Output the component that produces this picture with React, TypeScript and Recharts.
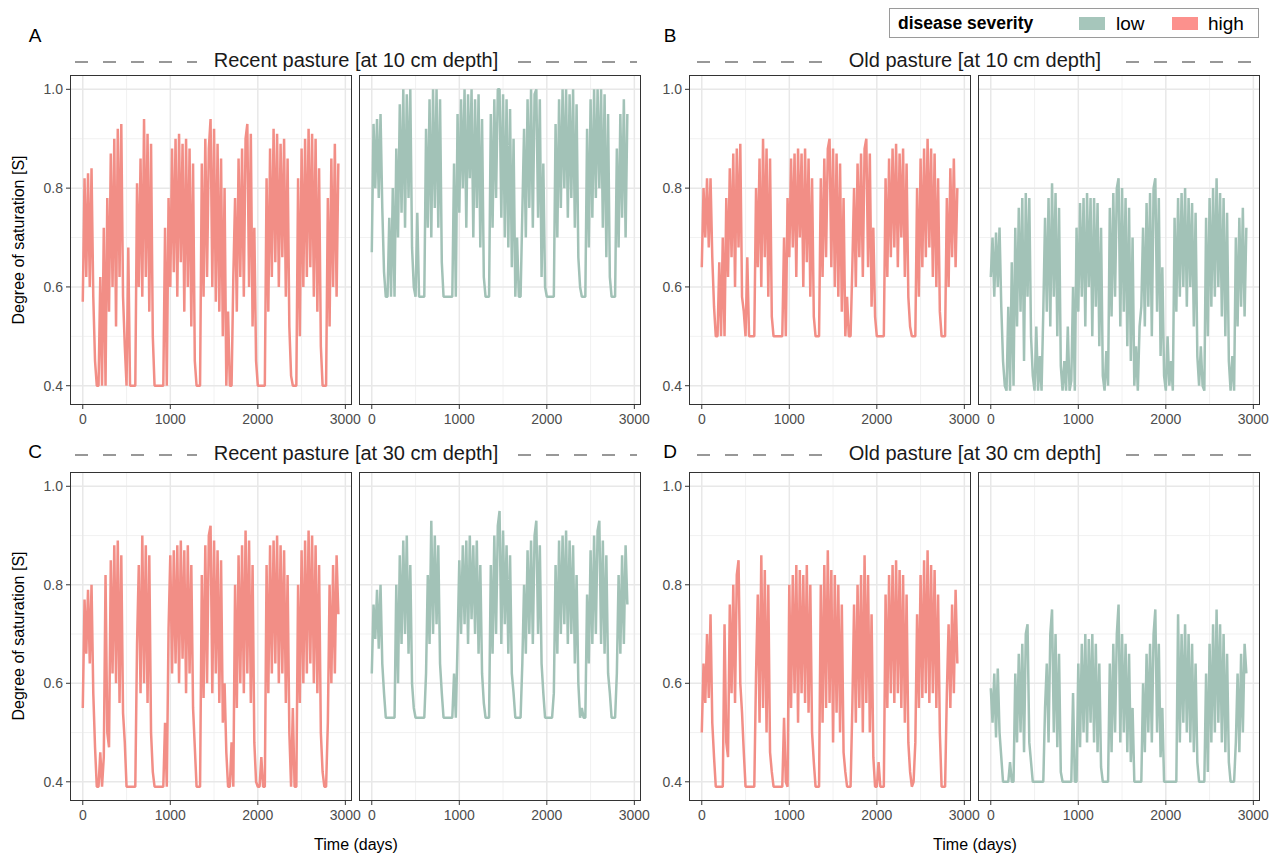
import React from 'react';
import { LineChart, Line, XAxis, YAxis, CartesianGrid } from 'recharts';

const FONT = '"Liberation Sans", Arial, Helvetica, sans-serif';
const HIGH = '#F28E86';
const LOW = '#A2C2B7';
const HIGH_KEY = '#FC918D';
const LOW_KEY = '#A6C6BB';

const DAY_STEP = 20; // sampling interval of the values below (days)
const X_TICKS = [0, 1000, 2000, 3000];
const X_MINOR = [500, 1500, 2500];
const Y_TICKS = [0.4, 0.6, 0.8, 1.0];
const Y_MINOR = [0.5, 0.7, 0.9];
const X_DOMAIN: [number, number] = [-146, 3076];
const Y_DOMAIN: [number, number] = [0.361, 1.029];

// Degree of saturation (x100), every 20 days from day 0 to 2920
const recent10High = [
  57, 82, 62, 83, 60, 84, 58, 45,
  40, 40, 62, 40, 72, 40, 78,
  55, 87, 60, 90, 52, 92, 62, 93, 58,
  48, 40, 68, 40, 40, 40, 40, 81,
  60, 86, 58, 94, 62, 91, 55, 89, 50,
  40, 40, 40, 40, 40, 40, 72, 40, 78,
  60, 88, 63, 90, 58, 91, 65, 89, 55, 90, 60, 88, 52, 85,
  45, 40, 40, 40,
  85, 58, 90, 62, 88, 94, 60, 92, 57, 89, 55, 86, 50, 80,
  40, 55, 40, 40, 62,
  78, 55, 86, 62, 88, 58, 90, 93, 60, 91, 52, 72,
  45, 40, 40, 40, 40, 40,
  82, 55, 88, 62, 92, 65, 91, 60, 89, 66, 90, 58, 86, 52,
  42, 40, 40, 40,
  82, 50, 88, 60, 90, 62, 92, 64, 91, 58, 90, 55, 84, 48,
  40, 40, 40,
  78, 52, 86, 60, 89, 58, 85,
];

const recent10Low = [
  67, 93, 80, 94, 78, 95, 76, 63,
  58, 58, 74, 58, 80, 58, 88,
  70, 97, 75, 100, 72, 99, 78, 100, 68,
  60, 58, 75, 58, 58, 58, 58, 92,
  72, 98, 70, 100, 76, 100, 72, 98, 65,
  58, 58, 58, 58, 58, 58, 85, 58, 95,
  75, 98, 80, 100, 72, 99, 82, 100, 70, 98, 76, 99, 68, 94,
  62, 58, 58, 58,
  95, 72, 98, 78, 100, 100, 74, 99, 70, 98, 68, 96, 64, 90,
  58, 70, 58, 58, 75,
  92, 70, 98, 76, 100, 72, 99, 100, 74, 98, 62, 85,
  60, 58, 58, 58, 58, 58,
  93, 70, 98, 76, 100, 80, 100, 74, 99, 78, 100, 72, 97, 66,
  60, 58, 58, 58,
  92, 68, 98, 74, 100, 78, 100, 80, 100, 72, 99, 66, 95, 62,
  58, 58, 58,
  88, 68, 95, 74, 98, 70, 95,
];

const old10High = [
  64, 80, 70, 82, 68, 82, 66, 56,
  50, 50, 65, 50, 70, 50, 78,
  62, 84, 66, 87, 60, 88, 68, 89, 58,
  55, 50, 66, 50, 50, 50, 50, 80,
  64, 86, 60, 90, 66, 88, 58, 86, 54,
  50, 50, 50, 50, 50, 50, 70, 50, 78,
  66, 86, 68, 87, 62, 88, 70, 87, 60, 88, 65, 86, 58, 82,
  54, 50, 50, 50,
  82, 62, 86, 66, 88, 90, 64, 88, 60, 87, 58, 85, 55, 78,
  50, 58, 50, 50, 64,
  80, 60, 85, 66, 87, 62, 88, 90, 64, 87, 56, 72,
  54, 50, 50, 50, 50, 50,
  82, 62, 86, 66, 88, 68, 89, 64, 87, 70, 88, 62, 85, 58,
  52, 50, 50, 50,
  80, 58, 86, 64, 88, 66, 90, 68, 88, 62, 87, 60, 82, 55,
  50, 50, 50,
  78, 60, 84, 66, 86, 64, 80,
];

const old10Low = [
  62, 70, 58, 71, 60, 72, 56, 45,
  40, 39, 56, 39, 65, 40, 72,
  52, 76, 55, 78, 45, 79, 58, 78, 50,
  42, 39, 52, 39, 46, 39, 55, 74,
  55, 78, 52, 81, 58, 79, 50, 76, 44,
  39, 45, 39, 52, 39, 41, 60, 39, 72,
  55, 77, 58, 78, 52, 79, 60, 78, 50, 78, 56, 77, 48, 72,
  42, 39, 47, 40,
  76, 54, 79, 58, 80, 82, 52, 80, 55, 78, 48, 76, 45, 70,
  40, 48, 39, 52, 56,
  72, 52, 77, 56, 79, 50, 80, 82, 55, 78, 46, 64,
  42, 39, 50, 40, 45, 39,
  74, 55, 78, 58, 79, 60, 80, 56, 78, 60, 77, 52, 75, 46,
  40, 48, 40, 39,
  74, 50, 78, 56, 80, 58, 82, 60, 79, 54, 78, 50, 75, 45,
  39, 46, 39,
  70, 52, 74, 56, 76, 54, 72,
];

const recent30High = [
  55, 77, 66, 79, 64, 80, 58, 47,
  39, 39, 46, 39, 45,
  82, 50, 47, 85, 62, 88, 60, 89, 56, 86, 54,
  48, 39, 39, 39, 39, 39, 39, 68,
  84, 58, 90, 60, 88, 56, 86, 50, 42,
  39, 39, 39, 39, 39, 39, 52, 39, 71,
  86, 62, 87, 64, 88, 60, 89, 65, 87, 58, 88, 62, 84, 55,
  47, 39, 39, 39,
  82, 57, 88, 60, 90, 92, 58, 89, 62, 87, 56, 85, 52, 60,
  46, 39, 39, 48, 39,
  80, 55, 86, 60, 88, 58, 91, 62, 89, 56, 84, 48,
  40, 39, 39, 45, 39, 39,
  84, 58, 88, 62, 89, 64, 90, 60, 88, 62, 87, 56, 82, 50,
  39, 55, 39, 39,
  80, 56, 87, 60, 89, 62, 91, 64, 90, 60, 88, 58, 84, 50,
  42, 39, 39,
  52, 80, 60, 84, 62, 86, 74,
];

const recent30Low = [
  62, 76, 69, 79, 67, 80, 64, 58,
  53, 53, 53, 53, 53, 53, 80,
  60, 86, 68, 89, 70, 90, 66, 84, 60,
  55, 53, 53, 53, 53, 53, 53, 62,
  82, 68, 93, 70, 90, 72, 88, 64, 58,
  53, 53, 53, 53, 53, 53, 62, 53, 68,
  85, 70, 88, 72, 89, 68, 90, 73, 88, 70, 89, 66, 84, 62,
  56, 53, 53, 53,
  84, 66, 90, 70, 92, 95, 68, 91, 72, 88, 66, 86, 62, 58,
  53, 53, 53, 53, 64,
  80, 66, 87, 70, 89, 68, 90, 93, 70, 88, 64, 58,
  53, 53, 53, 53, 53, 58,
  84, 66, 89, 70, 90, 72, 91, 68, 89, 70, 88, 64, 82, 60,
  53, 55, 53, 53,
  78, 64, 87, 68, 90, 70, 91, 93, 68, 89, 66, 86, 62, 58,
  53, 53, 53,
  62, 82, 66, 86, 68, 88, 76,
];

const old30High = [
  50, 64, 56, 70, 57, 74, 52, 45,
  39, 39, 39, 39, 39,
  72, 48, 45, 76, 58, 80, 56, 82, 85, 60, 54,
  46, 39, 39, 39, 39, 39, 39, 62,
  78, 52, 86, 55, 83, 50, 80, 46, 42,
  39, 39, 39, 39, 39, 39, 53, 40, 39,
  80, 55, 82, 58, 84, 52, 83, 58, 82, 56, 84, 54, 80, 50,
  44, 39, 39, 39,
  80, 52, 84, 55, 87, 56, 83, 48, 82, 54, 80, 50, 76, 46,
  42, 39, 39, 39, 55,
  76, 52, 80, 55, 82, 50, 86, 56, 82, 50, 74, 45,
  39, 39, 44, 39, 39, 39,
  78, 55, 82, 58, 84, 56, 85, 58, 83, 55, 82, 52, 78, 48,
  42, 39, 40, 48,
  74, 55, 82, 57, 85, 58, 87, 56, 84, 58, 83, 55, 78, 50,
  39, 39, 39,
  58, 72, 55, 76, 58, 79, 64,
];

const old30Low = [
  59, 52, 62, 49, 63, 50, 45, 40,
  40, 40, 40, 44, 40, 40, 62,
  48, 66, 50, 68, 46, 70, 72, 48, 44,
  40, 40, 40, 40, 40, 40, 40, 55,
  64, 48, 70, 75, 50, 70, 47, 66, 42,
  40, 40, 40, 40, 40, 40, 58, 40, 40,
  64, 47, 68, 50, 70, 48, 69, 52, 70, 48, 68, 46, 64, 43,
  40, 40, 40, 40,
  64, 46, 68, 50, 70, 76, 48, 70, 50, 68, 46, 66, 44, 55,
  40, 40, 40, 40, 40,
  60, 46, 66, 50, 68, 48, 70, 75, 50, 68, 45, 55,
  40, 40, 40, 40, 40, 40, 40, 40,
  74, 48, 70, 52, 72, 50, 70, 48, 68, 46, 64, 44,
  40, 40, 40, 40,
  62, 42, 68, 48, 72, 50, 75, 52, 72, 48, 70, 46, 66, 44,
  40, 40, 40,
  48, 62, 46, 66, 50, 68, 62,
];

const toRows = (vals: number[]) => vals.map((v, i) => ({ day: i * DAY_STEP, s: v / 100 }));

type FacetProps = {
  values: number[];
  color: string;
  left: number;
  top: number;
  width: number;
  height: number;
  showY: boolean;
};

function Facet({ values, color, left, top, width, height, showY }: FacetProps) {
  const YW = showY ? 40 : 0;
  const XH = 34;
  const MR = 24;
  const tickStyle = { fill: '#4D4D4D', fontSize: 14, fontFamily: FONT };
  return (
    <div style={{ position: 'absolute', left: left - YW, top, width: width + YW + MR, height: height + XH }}>
      <LineChart
        width={width + YW + MR}
        height={height + XH}
        data={toRows(values)}
        margin={{ top: 0, right: MR, bottom: 0, left: 0 }}
      >
        <CartesianGrid stroke="#EDEDED" strokeWidth={0.8} horizontalValues={Y_MINOR} verticalValues={X_MINOR} />
        <CartesianGrid stroke="#E8E8E8" strokeWidth={1.5} horizontalValues={Y_TICKS} verticalValues={X_TICKS} />
        <XAxis
          type="number"
          dataKey="day"
          domain={X_DOMAIN}
          ticks={X_TICKS}
          interval={0}
          allowDataOverflow
          height={XH}
          axisLine={false}
          tickSize={4}
          tickMargin={5}
          tickLine={{ stroke: '#333333' }}
          tick={tickStyle}
        />
        <YAxis
          type="number"
          domain={Y_DOMAIN}
          ticks={Y_TICKS}
          interval={0}
          allowDataOverflow
          width={YW}
          hide={!showY}
          axisLine={false}
          tickSize={4}
          tickMargin={3}
          tickLine={{ stroke: '#333333' }}
          tick={tickStyle}
          tickFormatter={(v: number) => v.toFixed(1)}
        />
        <Line
          type="linear"
          dataKey="s"
          stroke={color}
          strokeWidth={2.5}
          strokeLinejoin="bevel"
          dot={false}
          isAnimationActive={false}
        />
      </LineChart>
      <div
        style={{
          position: 'absolute',
          left: YW,
          top: 0,
          width,
          height,
          border: '1px solid #333333',
          boxSizing: 'border-box',
          pointerEvents: 'none',
        }}
      />
    </div>
  );
}

function Strip({ text, cx, y, l1, l2, r1, r2 }: { text: string; cx: number; y: number; l1: number; l2: number; r1: number; r2: number }) {
  return (
    <g>
      <line x1={l1} x2={l2} y1={y + 2} y2={y + 2} stroke="#333" strokeWidth={1.1} strokeDasharray="13 15" />
      <line x1={r1} x2={r2} y1={y + 2} y2={y + 2} stroke="#333" strokeWidth={1.1} strokeDasharray="13 15" />
      <text x={cx} y={y} textAnchor="middle" dominantBaseline="central" fontSize={20} fill="#1A1A1A" fontFamily={FONT}>
        {text}
      </text>
    </g>
  );
}

export default function App() {
  return (
    <div style={{ position: 'absolute', left: 0, top: 0, width: 1286, height: 859, background: '#FFFFFF', fontFamily: FONT }}>
      <Facet values={recent10High} color={HIGH} left={70} top={75} width={282} height={330} showY />
      <Facet values={recent10Low} color={LOW} left={359} top={75} width={282} height={330} showY={false} />
      <Facet values={old10High} color={HIGH} left={689} top={75} width={282} height={330} showY />
      <Facet values={old10Low} color={LOW} left={978} top={75} width={282} height={330} showY={false} />
      <Facet values={recent30High} color={HIGH} left={70} top={472} width={282} height={329} showY />
      <Facet values={recent30Low} color={LOW} left={359} top={472} width={282} height={329} showY={false} />
      <Facet values={old30High} color={HIGH} left={689} top={472} width={282} height={329} showY />
      <Facet values={old30Low} color={LOW} left={978} top={472} width={282} height={329} showY={false} />

      <svg width={1286} height={859} style={{ position: 'absolute', left: 0, top: 0, pointerEvents: 'none' }}>
        <text x={35} y={35} textAnchor="middle" dominantBaseline="central" fontSize={19} fontFamily={FONT} fill="#000">A</text>
        <text x={670} y={35} textAnchor="middle" dominantBaseline="central" fontSize={19} fontFamily={FONT} fill="#000">B</text>
        <text x={35} y={451} textAnchor="middle" dominantBaseline="central" fontSize={19} fontFamily={FONT} fill="#000">C</text>
        <text x={670} y={451} textAnchor="middle" dominantBaseline="central" fontSize={19} fontFamily={FONT} fill="#000">D</text>

        <Strip text="Recent pasture [at 10 cm depth]" cx={356} y={60} l1={75} l2={197} r1={518} r2={637} />
        <Strip text="Old pasture [at 10 cm depth]" cx={975} y={60} l1={697} l2={833} r1={1126} r2={1254} />
        <Strip text="Recent pasture [at 30 cm depth]" cx={356} y={453} l1={75} l2={197} r1={518} r2={637} />
        <Strip text="Old pasture [at 30 cm depth]" cx={975} y={453} l1={697} l2={833} r1={1126} r2={1254} />

        <text transform="translate(18,240) rotate(-90)" textAnchor="middle" dominantBaseline="central" fontSize={16} fontFamily={FONT} fill="#000">
          Degree of saturation [S]
        </text>
        <text transform="translate(18,636) rotate(-90)" textAnchor="middle" dominantBaseline="central" fontSize={16} fontFamily={FONT} fill="#000">
          Degree of saturation [S]
        </text>
        <text x={356} y={844} textAnchor="middle" dominantBaseline="central" fontSize={16} fontFamily={FONT} fill="#000">Time (days)</text>
        <text x={975} y={844} textAnchor="middle" dominantBaseline="central" fontSize={16} fontFamily={FONT} fill="#000">Time (days)</text>

        <rect x={889.5} y={8.5} width={369} height={29} fill="#FFFFFF" stroke="#9A9A9A" strokeWidth={1} />
        <text x={898} y={23} dominantBaseline="central" fontSize={17.5} fontWeight="bold" fontFamily={FONT} fill="#000">disease severity</text>
        <rect x={1079} y={17} width={26} height={13} fill={LOW_KEY} />
        <text x={1116} y={23} dominantBaseline="central" fontSize={19} fontFamily={FONT} fill="#000">low</text>
        <rect x={1172} y={17} width={26} height={13} fill={HIGH_KEY} />
        <text x={1208} y={23} dominantBaseline="central" fontSize={19} fontFamily={FONT} fill="#000">high</text>
      </svg>
    </div>
  );
}
